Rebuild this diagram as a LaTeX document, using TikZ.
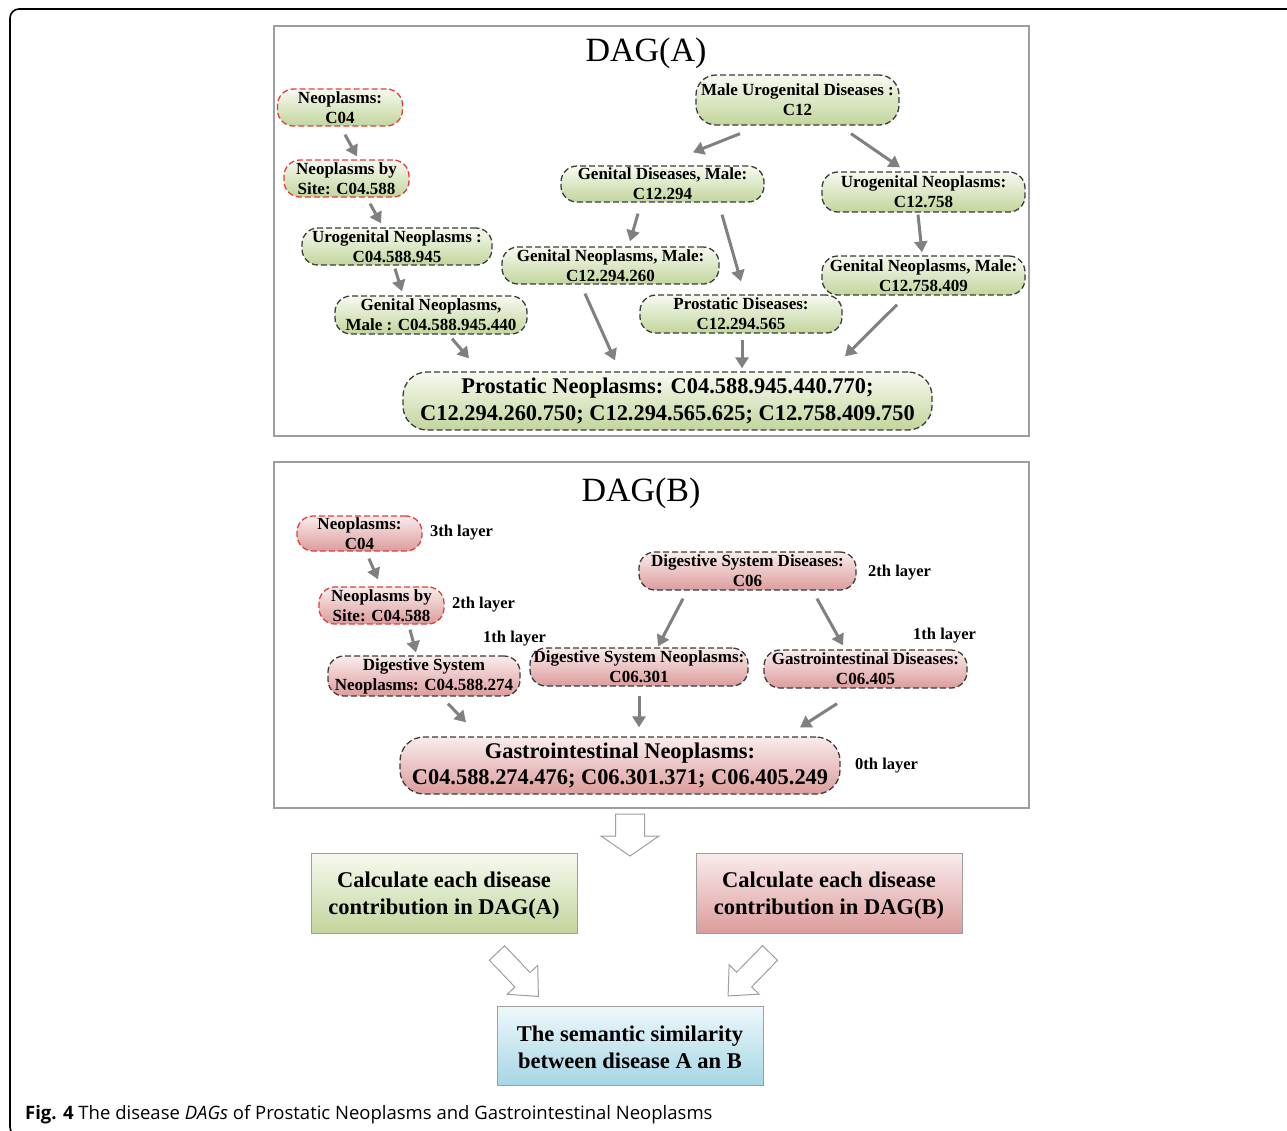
\documentclass[tikz,border=0pt]{standalone}
\usepackage{fontspec}
\setmainfont{Liberation Serif}[BoldFont={Liberation Serif Bold},ItalicFont={Liberation Serif Italic},BoldItalicFont={Liberation Serif Bold Italic}]
\newfontfamily\capfont{Open Sans}
\usetikzlibrary{arrows.meta,calc}
\definecolor{gtop}{RGB}{247,250,240}
\definecolor{gbot}{RGB}{194,213,156}
\definecolor{ptop}{RGB}{250,236,236}
\definecolor{pbot}{RGB}{220,156,156}
\definecolor{btop}{RGB}{238,248,251}
\definecolor{bbot}{RGB}{166,214,228}
\definecolor{dashgray}{RGB}{60,60,60}
\definecolor{dashred}{RGB}{228,60,60}
\definecolor{arrgray}{RGB}{128,128,128}
\definecolor{boxgray}{RGB}{158,158,158}
\newcommand\myhollow[6]{% x, y, angle, head start, total length, half shaft width
  \begin{scope}[shift={(#1,#2)},rotate=#3]
    \draw[draw=boxgray,line width=1pt,fill=white,line join=miter]
      (0,-#6) -- (#4,-#6) -- (#4,-2*#6) -- (#5,0) -- (#4,2*#6) -- (#4,#6) -- (0,#6) -- cycle;
  \end{scope}}
\tikzset{
  dagnode/.style={draw=dashgray, dash pattern=on 6pt off 3pt, line width=1.3pt,
    rounded corners=16pt, align=center, inner sep=0pt,
    font=\fontsize{17}{20}\selectfont\bfseries},
  gnode/.style={dagnode, top color=gtop, bottom color=gbot},
  pnode/.style={dagnode, top color=ptop, bottom color=pbot},
  redb/.style={draw=dashred},
  bignode/.style={font=\fontsize{22.4}{26.5}\selectfont\bfseries, rounded corners=24pt},
  arr/.style={draw=arrgray, line width=3pt, -{Triangle[length=11pt,width=13pt]}},
  layer/.style={anchor=west, font=\fontsize{16.5}{19}\selectfont\bfseries, inner sep=0pt},
  dagframe/.style={draw=boxgray, line width=1.2pt},
  dagtitle/.style={font=\fontsize{34}{40}\selectfont, inner sep=0pt},
  calcbox/.style={draw=boxgray, line width=1pt, align=center, inner sep=0pt,
    minimum width=266pt, minimum height=80pt,
    font=\fontsize{22.5}{27}\selectfont\bfseries},
}
\newcommand\dnstrut{\rule{0pt}{20pt}}
\begin{document}
\begin{tikzpicture}[x=1pt,y=-1pt]
\path[use as bounding box] (0,0) rectangle (1287,1130);
\begin{scope}
  \clip (0,0) rectangle (1287,1130);
  \draw[line width=1.6pt, rounded corners=9pt] (1295,9) -- (10,9) -- (10,1136) -- (30,1136);
\end{scope}

% ---------------- DAG(A)
\draw[dagframe] (274,26) rectangle (1029,436);
\node[dagtitle] (tA) at (646,53) {DAG(A)};

\node[gnode,redb,minimum width=125pt,minimum height=37pt] (A1) at (340,107.5) {Neoplasms:\\C04};
\node[gnode,redb,minimum width=125pt,minimum height=37pt] (A2) at (346.5,178.5) {Neoplasms by\\Site: C04.588};
\node[gnode,minimum width=190pt,minimum height=37pt] (A3) at (397,246.5) {Urogenital Neoplasms :\\C04.588.945};
\node[gnode,minimum width=192pt,minimum height=38pt] (A4) at (431,315) {Genital Neoplasms,\\Male : C04.588.945.440};
\node[gnode,minimum width=203pt,minimum height=50pt,rounded corners=20pt] (A5) at (797.5,100) {Male Urogenital Diseases :\\C12};
\node[gnode,minimum width=203pt,minimum height=36pt] (A6) at (662.5,184) {Genital Diseases, Male:\\C12.294};
\node[gnode,minimum width=203pt,minimum height=40pt] (A7) at (923.5,192) {Urogenital Neoplasms:\\C12.758};
\node[gnode,minimum width=217pt,minimum height=37pt] (A8) at (610.5,265.5) {Genital Neoplasms, Male:\\C12.294.260};
\node[gnode,minimum width=202pt,minimum height=38pt] (A9) at (741,314) {Prostatic Diseases:\\C12.294.565};
\node[gnode,minimum width=203pt,minimum height=39pt] (A10) at (923.5,275.5) {Genital Neoplasms, Male:\\C12.758.409};
\node[gnode,bignode,minimum width=529pt,minimum height=58pt] (A11) at (667.5,401) {Prostatic Neoplasms: C04.588.945.440.770;\\C12.294.260.750; C12.294.565.625; C12.758.409.750};

\draw[arr] ([shift={(5,8)}]A1.south) -- ([shift={(10.5,-3)}]A2.north);
\draw[arr] ([shift={(23.5,6)}]A2.south) -- ([shift={(-16,-4)}]A3.north);
\draw[arr] ([shift={(-2,3)}]A3.south) -- ([shift={(-29,-4)}]A4.north);
\draw[arr] ([shift={(21,4)}]A4.south) -- ([shift={(-198.5,-13)}]A11.north);
\draw[arr] ([shift={(-57.5,8)}]A5.south) -- ([shift={(30.5,-13)}]A6.north);
\draw[arr] ([shift={(53.5,8)}]A5.south) -- ([shift={(-23.5,-4)}]A7.north);
\draw[arr] ([shift={(-24.5,11)}]A6.south) -- ([shift={(19.5,-5)}]A8.north);
\draw[arr] ([shift={(59.5,12)}]A6.south) -- ([shift={(0,-13)}]A9.north);
\draw[arr] ([shift={(-5.5,2)}]A7.south) -- ([shift={(-1.5,-3)}]A10.north);
\draw[arr] ([shift={(-25.5,9)}]A8.south) -- ([shift={(-52.5,-11)}]A11.north);
\draw[arr] ([shift={(1,6)}]A9.south) -- ([shift={(74.5,-3)}]A11.north);
\draw[arr] ([shift={(-26.5,9)}]A10.south) -- ([shift={(177.5,-15)}]A11.north);

% ---------------- DAG(B)
\draw[dagframe] (274,462) rectangle (1029,808);
\node[dagtitle] (tB) at (641,493) {DAG(B)};

\node[pnode,redb,minimum width=125pt,minimum height=35pt] (B1) at (359.5,533.5) {Neoplasms:\\C04};
\node[pnode,redb,minimum width=125pt,minimum height=37pt] (B2) at (381.5,605.5) {Neoplasms by\\Site: C04.588};
\node[pnode,minimum width=192pt,minimum height=40pt] (B3) at (424,676) {Digestive System\\Neoplasms: C04.588.274};
\node[pnode,minimum width=217pt,minimum height=38pt] (B4) at (747.5,571) {Digestive System Diseases:\\C06};
\node[pnode,minimum width=218pt,minimum height=38pt] (B5) at (639,667) {Digestive System Neoplasms:\\C06.301};
\node[pnode,minimum width=203pt,minimum height=38pt] (B6) at (865.5,669) {Gastrointestinal Diseases:\\C06.405};
\node[pnode,bignode,minimum width=440pt,minimum height=57pt] (B7) at (620,765.5) {Gastrointestinal Neoplasms:\\C04.588.274.476; C06.301.371; C06.405.249};

\node[layer] (L1) at (430,533) {3th layer};
\node[layer] (L2) at (452,605) {2th layer};
\node[layer] (L3) at (483,639) {1th layer};
\node[layer] (L4) at (868,573) {2th layer};
\node[layer] (L5) at (913,636) {1th layer};
\node[layer] (L6) at (855,766) {0th layer};

\draw[arr] ([shift={(9.5,7)}]B1.south) -- ([shift={(-3.5,-7)}]B2.north);
\draw[arr] ([shift={(28.5,5)}]B2.south) -- ([shift={(-8,-3)}]B3.north);
\draw[arr] ([shift={(24,7)}]B3.south) -- ([shift={(-154,-14)}]B7.north);
\draw[arr] ([shift={(-64.5,8)}]B4.south) -- ([shift={(19,-1)}]B5.north);
\draw[arr] ([shift={(69.5,8)}]B4.south) -- ([shift={(-22.5,-4)}]B6.north);
\draw[arr] ([shift={(0,9)}]B5.south) -- ([shift={(19,-9)}]B7.north);
\draw[arr] ([shift={(-28.5,15)}]B6.south) -- ([shift={(180,-9)}]B7.north);

% ---------------- bottom flow
\node[calcbox, top color=gtop, bottom color=gbot] (C1) at (444,893) {\dnstrut Calculate each disease\\contribution in DAG(A)};
\node[calcbox, top color=ptop, bottom color=pbot] (C2) at (829,893) {\dnstrut Calculate each disease\\contribution in DAG(B)};
\node[calcbox, top color=btop, bottom color=bbot, minimum height=79pt] (C3) at (630,1045.5) {\dnstrut The semantic similarity\\between disease A an B};

\myhollow{630}{814}{-90}{22}{42}{14.5}
\myhollow{497}{953}{-46.4}{37}{60}{10.5}
\myhollow{770}{953}{-134.3}{37}{60}{10.5}

% ---------------- caption
\node[anchor=base west, inner sep=0pt, font=\capfont\fontsize{18.5}{22}\selectfont] (cap) at (25,1119)
  {\textbf{Fig. 4} The disease \textit{DAGs} of Prostatic Neoplasms and Gastrointestinal Neoplasms};
\end{tikzpicture}
\end{document}
